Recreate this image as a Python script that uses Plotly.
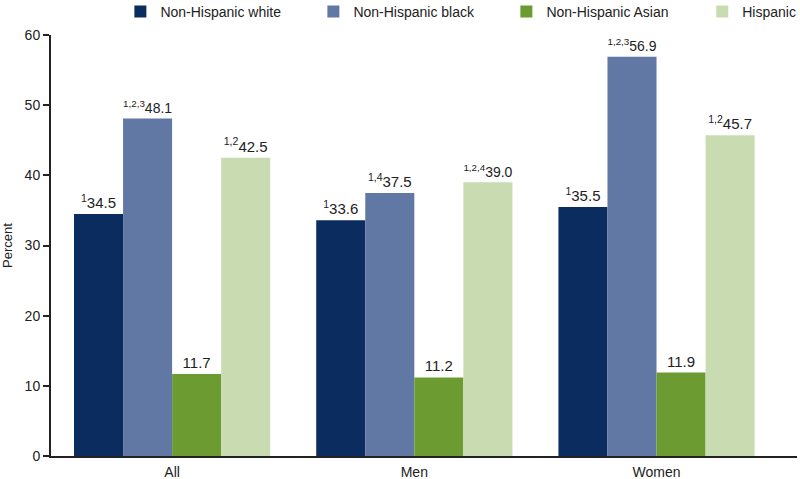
import plotly.graph_objects as go

groups = ["All", "Men", "Women"]
series_names = ["Non-Hispanic white", "Non-Hispanic black", "Non-Hispanic Asian", "Hispanic"]
white = [34.5, 33.6, 35.5]
black = [48.1, 37.5, 56.9]
asian = [11.7, 11.2, 11.9]
hispanic = [42.5, 39.0, 45.7]
white_notes = ["1", "1", "1"]
black_notes = ["1,2,3", "1,4", "1,2,3"]
asian_notes = ["", "", ""]
hispanic_notes = ["1,2", "1,2,4", "1,2"]
y_ticks = [0, 10, 20, 30, 40, 50, 60]

colors = ["#0b2c5e", "#6278a4", "#6c9c31", "#c9dcb1"]
# last series sits in a second legend so the top row keeps its spacing
legend_ids = ["legend", "legend", "legend", "legend2"]


def labels(values, notes):
    out = []
    for v, n in zip(values, notes):
        sup = f"<sup>{n}</sup>" if n else ""
        out.append(f"{sup}{v:.1f}")
    return out


fig = go.Figure()

for name, vals, notes, color, lg in zip(
    series_names,
    [white, black, asian, hispanic],
    [white_notes, black_notes, asian_notes, hispanic_notes],
    colors,
    legend_ids,
):
    fig.add_trace(
        go.Bar(
            x=groups,
            y=vals,
            name=name,
            legend=lg,
            marker=dict(color=color, line=dict(width=0)),
            text=labels(vals, notes),
            textposition="outside",
            textfont=dict(size=15, color="#222222"),
            cliponaxis=False,
        )
    )

legend_common = dict(
    orientation="h",
    xanchor="left",
    y=1.055,
    yanchor="middle",
    font=dict(size=14, color="#222222"),
    bgcolor="rgba(0,0,0,0)",
)

fig.update_layout(
    width=800,
    height=479,
    barmode="group",
    bargap=0.19,
    bargroupgap=0,
    plot_bgcolor="white",
    paper_bgcolor="white",
    font=dict(family="Liberation Sans, Arial, sans-serif", size=14, color="#222222"),
    margin=dict(l=51, r=3, t=35, b=23, autoexpand=False),
    showlegend=True,
    legend=dict(x=0.093, entrywidth=148, entrywidthmode="pixels", **legend_common),
    legend2=dict(x=0.873, **legend_common),
    xaxis=dict(
        showline=True,
        linecolor="#222222",
        linewidth=2,
        ticks="outside",
        ticklen=2,
        tickcolor="rgba(0,0,0,0)",
        range=[-0.5, 2.58],
        tickfont=dict(size=14),
        automargin=False,
    ),
    yaxis=dict(
        range=[0, 60],
        tickvals=y_ticks,
        showline=True,
        linecolor="#222222",
        linewidth=2,
        ticks="outside",
        ticklen=6,
        tickwidth=2,
        tickcolor="#222222",
        showgrid=False,
        zeroline=False,
        title=dict(text="Percent", font=dict(size=13), standoff=14),
        tickfont=dict(size=14),
        automargin=False,
    ),
)

# drop the page's default body margin so the figure fills the window
fig.write_html(
    "out.html",
    config={"displayModeBar": False},
    post_script="document.body.style.margin = '0';",
)
